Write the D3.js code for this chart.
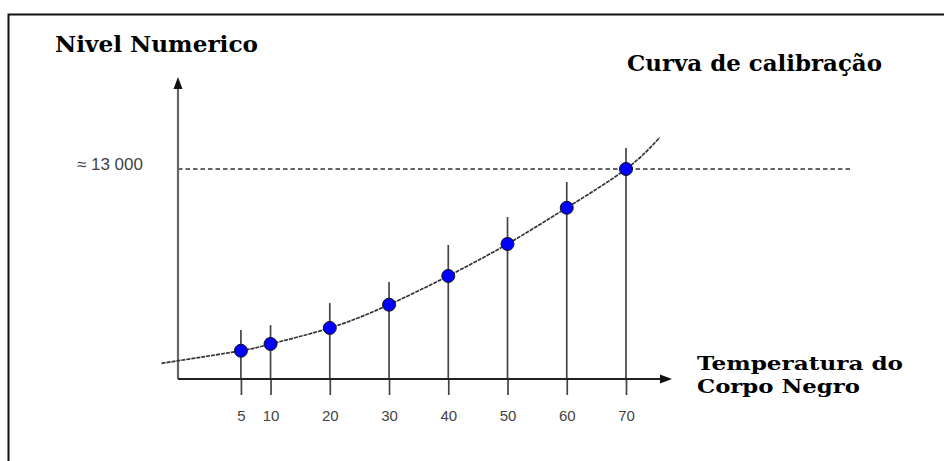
<!DOCTYPE html>
<html>
<head>
<meta charset="utf-8">
<script src="https://cdn.jsdelivr.net/npm/d3@7"></script>
<style>
  html, body { margin: 0; padding: 0; background: #fff; }
  svg { display: block; }
</style>
</head>
<body>
<svg id="chart" width="944" height="461"></svg>
<script>
// ---- data ----
const temperatures = [5, 10, 20, 30, 40, 50, 60, 70];
const levels = [1750, 2170, 3160, 4600, 6380, 8360, 10600, 13000];
const barTops = [3030, 3340, 4700, 6000, 8300, 10030, 12200, 14300];
const curveX = [-8.4, 5, 10, 20, 30, 40, 50, 60, 70, 75.7];
const curveY = [970, 1750, 2170, 3160, 4600, 6380, 8360, 10600, 13000, 14960];
const refValue = 13000;
const refLabel = "≈ 13 000";
const tickLabels = ["5", "10", "20", "30", "40", "50", "60", "70"];
const yTitle = "Nivel Numerico";
const chartTitle = "Curva de calibração";
const xTitleLines = ["Temperatura do", "Corpo Negro"];

// ---- layout ----
const svg = d3.select("#chart");
const axisX0 = 178, axisY0 = 379;
const x = d3.scaleLinear().domain([0, 70]).range([211.3, 626]);
const y = d3.scaleLinear().domain([0, 13000]).range([379, 169]);

// frame
svg.append("rect").attr("x", 8.5).attr("y", 14.5).attr("width", 1000).attr("height", 500)
  .attr("fill", "none").attr("stroke", "#111").attr("stroke-width", 2);

// reference dashed line
svg.append("line").attr("x1", axisX0).attr("x2", 851)
  .attr("y1", y(refValue)).attr("y2", y(refValue))
  .attr("stroke", "#666").attr("stroke-width", 2.2).attr("stroke-dasharray", "4.5,3");

svg.append("text").attr("x", 143).attr("y", y(refValue) - 3)
  .attr("text-anchor", "end").attr("dominant-baseline", "middle")
  .attr("font-family", "Liberation Sans, Arial, sans-serif").attr("font-size", 17)
  .attr("fill", "#444").text(refLabel);

// vertical bars from points
svg.append("g").selectAll("line").data(temperatures).join("line")
  .attr("x1", d => x(d)).attr("x2", d => x(d))
  .attr("y1", (d, i) => y(barTops[i])).attr("y2", y(0))
  .attr("stroke", "#444").attr("stroke-width", 1.7);

// x axis ticks & labels
const xAxis = d3.axisBottom(x).tickValues(temperatures)
  .tickFormat((d, i) => tickLabels[i]).tickSize(16).tickSizeOuter(0).tickPadding(15);
const gx = svg.append("g").attr("transform", `translate(0,${axisY0})`).call(xAxis);
gx.select(".domain").remove();
gx.selectAll(".tick line").attr("stroke", "#444").attr("stroke-width", 1.7);
gx.selectAll(".tick text").attr("font-family", "Liberation Sans, Arial, sans-serif")
  .attr("font-size", 15).attr("fill", "#444");

// y axis line with arrow
svg.append("line").attr("x1", axisX0).attr("x2", axisX0).attr("y1", axisY0).attr("y2", 86)
  .attr("stroke", "#666").attr("stroke-width", 2.2);
svg.append("path").attr("d", `M${axisX0},77 L${axisX0 - 4.5},89 L${axisX0 + 4.5},89 Z`).attr("fill", "#111");

// x axis line with arrow
svg.append("line").attr("x1", axisX0).attr("x2", 664).attr("y1", axisY0).attr("y2", axisY0)
  .attr("stroke", "#222").attr("stroke-width", 2);
svg.append("path").attr("d", `M672,${axisY0} L660,${axisY0 - 4.5} L660,${axisY0 + 4.5} Z`).attr("fill", "#111");

// fitted curve
const curvePts = curveX.map((v, i) => [x(v), y(curveY[i])]);
svg.append("path").attr("d", d3.line().curve(d3.curveNatural)(curvePts))
  .attr("fill", "none").attr("stroke", "#333").attr("stroke-width", 1.7)
  .attr("stroke-dasharray", "4,1");

// points
svg.append("g").selectAll("circle").data(temperatures).join("circle")
  .attr("cx", d => x(d)).attr("cy", (d, i) => y(levels[i])).attr("r", 6.5)
  .attr("fill", "#0000ff").attr("stroke", "#111").attr("stroke-width", 1);

// titles
const serif = "DejaVu Serif, Liberation Serif, serif";
function title(tx, ty, len, s, fs) {
  svg.append("text").attr("x", tx).attr("y", ty).attr("font-family", serif)
    .attr("font-weight", "bold").attr("font-size", fs).attr("fill", "#000")
    .attr("textLength", len).attr("lengthAdjust", "spacingAndGlyphs").text(s);
}
title(55, 52, 203, yTitle, 22);
title(627, 71, 255, chartTitle, 22);
title(697, 370, 206, xTitleLines[0], 19);
title(697, 393, 163, xTitleLines[1], 19);
</script>
</body>
</html>
